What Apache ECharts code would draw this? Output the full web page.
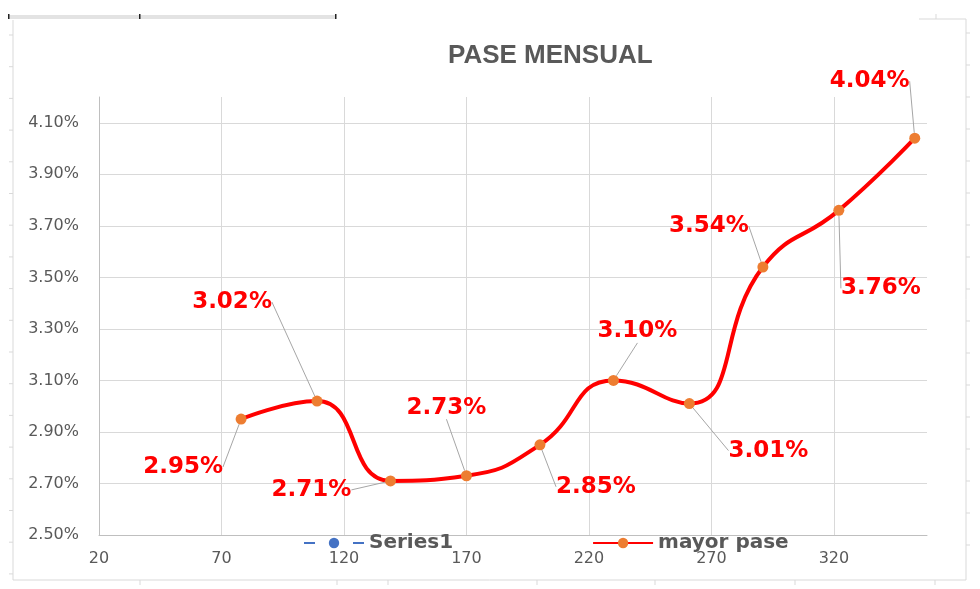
<!DOCTYPE html>
<html><head><meta charset="utf-8">
<script src="https://cdn.jsdelivr.net/npm/echarts@6/dist/echarts.min.js"></script>
<style>html,body{margin:0;padding:0;background:#fff}#c{width:980px;height:589px}</style>
</head><body><div id="c"></div>
<script>
// ---- data ----
const titleText = 'PASE MENSUAL';
const seriesNames = ['Series1', 'mayor pase'];
const xValues = [78, 109, 139, 170, 200, 230, 261, 291, 322, 353];
const paseValues = [2.95, 3.02, 2.71, 2.73, 2.85, 3.10, 3.01, 3.54, 3.76, 4.04];
const series1Values = [];
const xAxisMin = 20, xAxisMax = 358, xAxisStep = 50;
const yAxisMin = 2.5, yAxisMax = 4.2, yAxisStep = 0.2;

// ---- label placement (style, not data) ----
const labelOffsets = [[-58,48],[-85,-99],[-79,9],[-20,-68],[56,42],[24,-49],[79,47],[-54,-41],[42,78],[-45,-57]];

const gray = '#595959';
const frame = '#D9D9D9';
const graphics = [];
// spreadsheet frame decorations
graphics.push({type:'line', shape:{x1:13,y1:20,x2:13,y2:580}, style:{stroke:frame, lineWidth:1}, silent:true});
for (let y = 35; y < 575; y += 31.7) graphics.push({type:'line', shape:{x1:9,y1:y,x2:13,y2:y}, style:{stroke:frame, lineWidth:1}, silent:true});
graphics.push({type:'line', shape:{x1:13,y1:580,x2:966,y2:580}, style:{stroke:frame, lineWidth:1}, silent:true});
[140,337,388,537,655,795,935].forEach(x => graphics.push({type:'line', shape:{x1:x,y1:580,x2:x,y2:585}, style:{stroke:frame, lineWidth:1}, silent:true}));
graphics.push({type:'line', shape:{x1:966,y1:19,x2:966,y2:580}, style:{stroke:frame, lineWidth:1}, silent:true});
for (let y = 33; y < 575; y += 32) graphics.push({type:'line', shape:{x1:966,y1:y,x2:970,y2:y}, style:{stroke:frame, lineWidth:1}, silent:true});
graphics.push({type:'line', shape:{x1:919,y1:19,x2:966,y2:19}, style:{stroke:frame, lineWidth:1}, silent:true});
graphics.push({type:'line', shape:{x1:936,y1:14,x2:936,y2:19}, style:{stroke:frame, lineWidth:1}, silent:true});
graphics.push({type:'rect', shape:{x:8,y:15,width:328,height:4}, style:{fill:'#E3E3E3'}, silent:true});
[8,139,335].forEach(x => graphics.push({type:'rect', shape:{x:x,y:14,width:1.5,height:5}, style:{fill:'#222'}, silent:true}));

const chart = echarts.init(document.getElementById('c'), null, {renderer:'canvas'});
chart.setOption({
  backgroundColor:'#fff',
  animation:false,
  title:{
    text:titleText, left:448, top:43, padding:0,
    textStyle:{fontFamily:'Liberation Sans', fontSize:26, fontWeight:'bold', color:gray}
  },
  graphic:graphics,
  legend:{
    data:seriesNames, left:298, top:528, itemWidth:60, itemHeight:13, itemGap:139,
    textStyle:{fontFamily:'DejaVu Sans', fontSize:20, fontWeight:'bold', color:gray}
  },
  grid:{left:99, right:53, top:97, bottom:54, containLabel:false},
  xAxis:{
    type:'value', min:xAxisMin, max:xAxisMax, interval:xAxisStep,
    axisLine:{show:true, lineStyle:{color:'#BFBFBF', width:1}},
    axisTick:{show:false},
    axisLabel:{color:gray, fontSize:16, fontFamily:'DejaVu Sans', margin:16, showMaxLabel:false},
    splitLine:{show:true, showMinLine:false, showMaxLine:false, lineStyle:{color:frame, width:1}}
  },
  yAxis:{
    type:'value', min:yAxisMin, max:yAxisMax, interval:yAxisStep,
    axisLine:{show:true, lineStyle:{color:'#BFBFBF', width:1}},
    axisTick:{show:false},
    axisLabel:{color:gray, fontSize:16, fontFamily:'DejaVu Sans', margin:20, showMaxLabel:false,
      formatter:v => v.toFixed(2) + '%'},
    splitLine:{show:true, showMinLine:false, showMaxLine:false, lineStyle:{color:frame, width:1}}
  },
  series:[
    {
      name:seriesNames[0], type:'line', data:series1Values,
      symbol:'circle', symbolSize:10,
      lineStyle:{color:'#4472C4', width:3.5, type:[11,38]},
      itemStyle:{color:'#4472C4'}
    },
    {
      name:seriesNames[1], type:'line',
      data:xValues.map((x,i) => [x, paseValues[i]]),
      smooth:0.5, symbol:'circle', symbolSize:11, z:3,
      lineStyle:{color:'#FF0000', width:4},
      itemStyle:{color:'#ED7D31'},
      label:{show:true, position:'inside', color:'#FF0000', fontSize:23, fontWeight:'bold',
        fontFamily:'DejaVu Sans', formatter:p => p.value[1].toFixed(2) + '%'},
      labelLine:{show:true, lineStyle:{color:'#A6A6A6', width:1}},
      labelLayout:p => ({dx:labelOffsets[p.dataIndex][0], dy:labelOffsets[p.dataIndex][1]}),
      emphasis:{disabled:true}
    }
  ]
});
</script>
</body></html>
